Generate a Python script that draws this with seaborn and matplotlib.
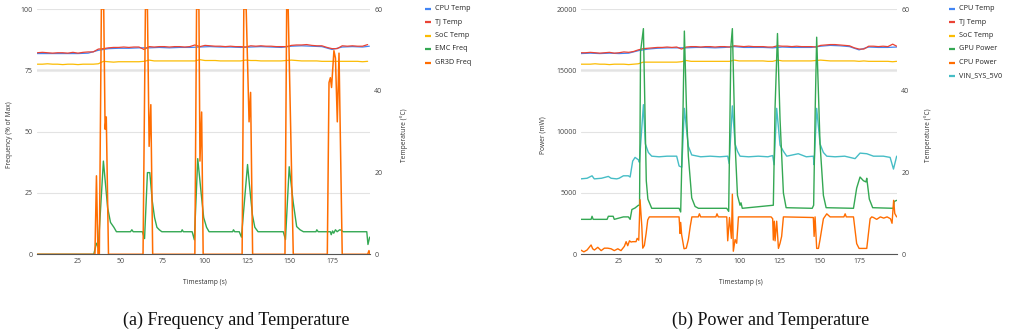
import numpy as np
import pandas as pd
import matplotlib
matplotlib.use("Agg")
import matplotlib.pyplot as plt
from matplotlib.lines import Line2D
import seaborn as sns

# ---------------- DATA ----------------
# (a) Frequency (% of max) and temperature (°C)
GR3D_T = [1, 35, 35.9, 36.8, 37.6, 38.8, 40.2, 41.0, 41.7, 43.0, 63.4, 64.8, 66.0, 67.0, 68.0, 69.1,
          94.0, 95.0, 96.4, 97.0, 98.0, 98.9, 121.9, 122.9, 124.3, 126.0, 126.9, 128.1,
          147.2, 148.2, 149.1, 150.6, 152.1, 172.2, 173.2, 174.0, 174.7, 176.1, 177.0, 178.1,
          179.1, 181.0, 196.0, 196.8, 197.3]
GR3D_V = [0, 0, 32, 0, 0, 100, 100, 51, 56, 0, 0, 100, 100, 44, 61, 0,
          0, 100, 100, 38, 58, 0, 0, 100, 100, 54, 66, 0,
          0, 100, 100, 50, 0, 0, 70, 72, 68, 83, 80, 54,
          82, 0, 0, 1.5, 0]

EMC_T = [1, 34.3, 35.9, 37.0, 40.0, 42.5, 44.2, 46.2, 47.7, 56.0, 56.8, 57.6, 63.0, 64.3, 66.0,
         67.4, 68.8, 70.2, 71.6, 73.0, 74.5, 86.0, 86.5, 87.2, 92.4, 93.7, 95.7, 97.7, 99.2,
         100.9, 102.4, 116.3, 116.8, 117.5, 120.2, 121.5, 125.1, 126.4, 128.0, 129.4, 131.3,
         146.2, 147.5, 149.7, 152.1, 154.1, 156.1, 158.1, 165.5, 166.0, 166.8, 174.0, 174.5,
         175.3, 176.0, 177.0, 178.0, 179.5, 180.5, 181.5, 195.5, 196.2, 197.2]
EMC_V = [0, 0, 4.5, 3, 38, 19, 13, 11, 9.2, 9.2, 10, 9.2, 9.2, 6.4, 33.3,
         33.3, 22, 15, 11, 10, 9.2, 9.2, 10, 9.2, 9.2, 5.9, 39, 25, 15,
         11, 9.2, 9.2, 10, 9.2, 9.2, 7, 36.6, 27, 16, 11, 9.2,
         9.2, 6, 35.7, 21, 11.3, 10, 9.2, 9.2, 10, 9.2, 9.2, 8,
         9.5, 8.6, 10, 9.2, 10, 9.8, 9.2, 9.2, 4, 7]

TEMP_T_A = [1, 4, 7, 10, 13, 16, 19, 22, 25, 28, 31, 34, 37, 40, 43, 46, 49, 52, 55, 58, 61, 64,
            67, 70, 73, 76, 79, 82, 85, 88, 91, 94, 97, 100, 103, 106, 109, 112, 115, 118, 121,
            124, 127, 130, 133, 136, 139, 142, 145, 148, 151, 154, 157, 160, 163, 166, 169, 172,
            175, 178, 181, 184, 187, 190, 193, 196]
TJ_A = [49.3, 49.4, 49.3, 49.2, 49.3, 49.3, 49.2, 49.4, 49.2, 49.4, 49.5, 49.5, 50.2, 50.3,
        50.5, 50.6, 50.6, 50.7, 50.6, 50.7, 50.7, 50.1, 50.8, 50.7, 50.8, 50.8, 50.7, 50.8,
        50.8, 50.7, 50.8, 51.2, 50.8, 51.1, 51.0, 50.9, 50.9, 50.8, 50.9, 50.8, 50.8, 50.7,
        51.0, 50.9, 51.0, 50.9, 50.9, 50.8, 50.8, 50.8, 51.1, 51.2, 51.2, 51.3, 51.1, 51.0,
        51.0, 50.6, 50.3, 50.3, 51.0, 50.9, 51.0, 50.9, 50.9, 51.3]
SOC_A = [46.5, 46.5, 46.6, 46.5, 46.5, 46.4, 46.5, 46.5, 46.4, 46.5, 46.5, 46.5, 46.6, 47.2,
         47.1, 47.0, 47.1, 47.1, 47.1, 47.1, 47.1, 47.2, 47.5, 47.3, 47.3, 47.3, 47.3, 47.3,
         47.3, 47.3, 47.3, 47.3, 47.6, 47.4, 47.4, 47.4, 47.3, 47.3, 47.3, 47.3, 47.3, 47.5,
         47.4, 47.4, 47.3, 47.3, 47.3, 47.3, 47.3, 47.4, 47.5, 47.4, 47.3, 47.3, 47.3, 47.3,
         47.2, 47.2, 47.2, 47.2, 47.2, 47.2, 47.2, 47.2, 47.1, 47.2]
CPU_TEMP_T_A = [1, 7, 13, 19, 25, 31, 37, 43, 49, 55, 61, 67, 73, 79, 85, 91, 97, 103, 109, 115,
                121, 127, 133, 139, 145, 151, 157, 163, 169, 175, 181, 187, 193, 197]
CPU_TEMP_A = [49.1, 49.1, 49.1, 49.1, 49.1, 49.2, 49.9, 50.3, 50.4, 50.4, 50.5, 50.5, 50.6, 50.5,
              50.6, 50.6, 50.7, 50.8, 50.7, 50.7, 50.6, 50.7, 50.8, 50.7, 50.6, 50.9, 51.0, 50.9,
              50.8, 50.1, 50.7, 50.8, 50.7, 50.9]

# (b) Power (mW) and temperature (°C)
VIN_T = [1, 5, 8.1, 9.5, 14, 18.3, 20, 23.5, 25, 27.7, 30.8, 31.9, 33.5, 35.0, 37.1, 37.7, 40.2,
         41.4, 43.3, 45.4, 50, 55, 61.0, 62.5, 64.2, 65.8, 67.3, 68.3, 70.4, 76, 82, 88, 92.9,
         93.8, 95.8, 97.5, 99.0, 100.6, 106, 112, 118, 121.0, 121.9, 123.5, 125.6, 127.7, 129.8,
         137, 142, 146.4, 146.9, 148.5, 150.6, 152.7, 154.8, 160, 166, 172.5, 175.6, 179.8, 184,
         190.2, 194.4, 196.5, 198.5]
VIN_V = [6150, 6200, 6400, 6150, 6200, 6350, 6200, 6150, 6200, 6400, 6400, 6300, 7600, 7900,
         7700, 7500, 12200, 9000, 8300, 8000, 7950, 8000, 8000, 7200, 7100, 11900, 10000, 8800,
         8100, 7950, 8000, 7950, 8000, 7400, 12100, 9000, 8400, 8000, 7950, 8000, 7950, 8050,
         7300, 11900, 8900, 8400, 8000, 8200, 7950, 8000, 7300, 11900, 9000, 8300, 8000, 7950,
         8000, 7800, 8250, 8200, 8000, 8000, 7900, 6950, 8000]

GPU_T = [1, 7.5, 8.1, 8.8, 17.5, 18.3, 21.3, 22, 27.7, 30.8, 31.9, 33.0, 35.0, 37.1, 37.8, 38.4,
         40.2, 42.0, 43.0, 45.4, 62.5, 63.5, 65.0, 65.8, 67.3, 68.3, 70.4, 72.5, 74.6, 92.3, 93.5,
         94.9, 95.8, 97.5, 99.0, 100.6, 101.2, 102.0, 121.4, 122.5, 124.0, 125.6, 127.7, 129.4,
         145.7, 146.6, 147.6, 148.5, 150.6, 152.7, 154.4, 171.5, 173.5, 175.6, 177.7, 179.3,
         179.8, 181.4, 183.5, 196.5, 196.9, 198.5]
GPU_V = [2850, 2850, 3100, 2850, 2850, 3100, 3100, 2850, 3050, 3050, 2850, 3650, 3780, 4000,
         4000, 16500, 18400, 6000, 4500, 3750, 3750, 3450, 12000, 18200, 11000, 8000, 4600, 3900,
         3750, 3750, 3500, 17000, 18400, 9000, 4800, 4000, 4200, 3750, 4000, 12000, 18000, 11000,
         5000, 3800, 3750, 4000, 12000, 17700, 9000, 4800, 3800, 3750, 5400, 6300, 6000, 5900,
         6200, 4500, 3800, 3750, 4300, 4400]

CPUP_T = [1, 3, 5, 7.5, 8.5, 9.6, 11.7, 13.8, 15.8, 17.9, 20, 22, 24.2, 26.2, 28.3, 29.4, 30.4,
          31.5, 32.5, 33.5, 35.6, 36.3, 37.3, 38.1, 39.2, 39.8, 40.8, 41.9, 42.9, 43.9, 62.5,
          63.1, 63.5, 64.1, 65.6, 67.0, 68.3, 69.5, 70.5, 74.5, 75.2, 76, 85.5, 86.2, 87, 92.3,
          92.9, 94.0, 95.2, 95.8, 96.4, 97.5, 98.5, 99.6, 120.0, 121.0, 121.4, 122.0, 122.5,
          123.5, 124.6, 125.6, 126.6, 127.7, 146.4, 146.9, 147.5, 148.5, 149.6, 150.6, 152.7,
          154.8, 156.9, 165.5, 166.3, 167, 171.5, 173.5, 175.0, 179.8, 181.9, 182.9, 184, 186,
          188.3, 190.4, 192.5, 194.6, 195.6, 196.6, 197.3, 198.5]
CPUP_V = [350, 200, 350, 760, 450, 350, 570, 300, 500, 500, 450, 300, 450, 300, 650, 1030, 700,
          1100, 1000, 1030, 1030, 1300, 1150, 4450, 2300, 500, 720, 1700, 2800, 3050, 3050,
          1700, 2600, 1600, 450, 500, 1200, 2300, 3050, 3050, 3300, 3050, 3050, 3300, 3050, 3050,
          1100, 3000, 1300, 4900, 250, 1200, 900, 3050, 3050, 2900, 1160, 2700, 1100,
          2700, 480, 900, 1460, 3050, 3000, 1460, 3050, 480, 480, 1200, 2900,
          3300, 3050, 3050, 3300, 3050, 3050, 870, 480, 480, 2900, 3050, 3000, 2850,
          3050, 2950, 3050, 2900, 2530, 4400, 3330, 3050]

TEMP_T_B = [1, 4, 7, 10, 13, 16, 19, 22, 25, 28, 31, 34, 37, 40, 43, 46, 49, 52, 55, 58, 61, 64,
            67, 70, 73, 76, 79, 82, 85, 88, 91, 94, 97, 100, 103, 106, 109, 112, 115, 118, 121,
            124, 127, 130, 133, 136, 139, 142, 145, 148, 151, 154, 157, 160, 163, 166, 169, 172,
            175, 178, 181, 184, 187, 190, 193, 196, 198.5]
TJ_B = [49.3, 49.3, 49.4, 49.3, 49.2, 49.3, 49.4, 49.2, 49.3, 49.5, 49.4, 49.6, 50.0, 50.3,
        50.4, 50.5, 50.6, 50.6, 50.7, 50.6, 50.7, 50.2, 50.7, 50.8, 50.8, 50.7, 50.8, 50.8,
        50.7, 50.8, 50.8, 50.7, 51.0, 50.9, 50.8, 50.9, 50.8, 50.8, 50.8, 50.7, 50.7, 51.0,
        50.9, 50.9, 50.8, 50.9, 50.8, 50.8, 50.8, 50.7, 51.1, 51.2, 51.3, 51.3, 51.2, 51.1,
        51.0, 50.5, 50.2, 50.2, 50.9, 50.9, 50.8, 50.9, 50.8, 51.4, 50.9]
SOC_B = [46.5, 46.5, 46.5, 46.6, 46.5, 46.5, 46.4, 46.5, 46.5, 46.5, 46.4, 46.5, 46.6, 47.0,
         47.0, 47.0, 47.0, 47.0, 47.0, 47.0, 47.0, 47.1, 47.4, 47.2, 47.2, 47.2, 47.2, 47.2,
         47.2, 47.2, 47.2, 47.2, 47.5, 47.3, 47.3, 47.3, 47.3, 47.3, 47.3, 47.2, 47.2, 47.5,
         47.3, 47.3, 47.3, 47.3, 47.3, 47.3, 47.3, 47.4, 47.5, 47.4, 47.3, 47.3, 47.3, 47.3,
         47.3, 47.3, 47.2, 47.3, 47.2, 47.2, 47.2, 47.2, 47.2, 47.1, 47.2]
CPU_TEMP_T_B = [1, 7, 13, 19, 25, 31, 37, 43, 49, 55, 61, 67, 73, 79, 85, 91, 97, 103, 109, 115,
                121, 127, 133, 139, 145, 151, 157, 163, 169, 175, 181, 187, 193, 198.5]
CPU_TEMP_B = [49.1, 49.2, 49.1, 49.2, 49.1, 49.2, 49.8, 50.2, 50.4, 50.5, 50.5, 50.5, 50.6, 50.6,
              50.5, 50.6, 50.8, 50.6, 50.6, 50.6, 50.5, 50.7, 50.6, 50.6, 50.6, 50.9, 51.1, 51.0,
              50.8, 50.0, 50.7, 50.6, 50.6, 50.7]

X_TICKS = [25, 50, 75, 100, 125, 150, 175]
FREQ_TICKS = [0, 25, 50, 75, 100]
POWER_TICKS = [0, 5000, 10000, 15000, 20000]
TEMP_TICKS = [0, 20, 40, 60]
LEGEND_A = ["CPU Temp", "TJ Temp", "SoC Temp", "EMC Freq", "GR3D Freq"]
LEGEND_B = ["CPU Temp", "TJ Temp", "SoC Temp", "GPU Power", "CPU Power", "VIN_SYS_5V0"]
CAPTION_A = "(a) Frequency and Temperature"
CAPTION_B = "(b) Power and Temperature"

# ---------------- STYLE ----------------
sns.set_theme(style="white")
plt.rcParams["font.family"] = ["Open Sans", "DejaVu Sans"]

BLUE, RED, YELLOW, GREEN, ORANGE, CYAN = "#4285F4", "#EA4335", "#FBBC04", "#34A853", "#FF6D01", "#46BDC6"
GRID = "#e3e3e3"
TICKC = "#444444"
W, H = 1009, 335
TICK_FS = 5.0
LAB_FS = 4.8
LEG_FS = 5.2

fig = plt.figure(figsize=(W / 100, H / 100), dpi=100)


def px_axes(x0, x1, ytop, ybot):
    return fig.add_axes([x0 / W, 1 - ybot / H, (x1 - x0) / W, (ybot - ytop) / H])


def line(ax, t, v, color, lw=1.0, z=2):
    sns.lineplot(x=t, y=v, ax=ax, color=color, lw=lw, estimator=None, sort=False,
                 legend=False, zorder=z)


def style_pair(ax, ax2, xlim, ylim, yticks, ylabels, ylab):
    ax.set_xlim(*xlim)
    ax.set_ylim(*ylim)
    ax2.set_ylim(0, 60)
    ax.set_xticks(X_TICKS)
    ax.set_xticklabels([str(v) for v in X_TICKS])
    ax.set_yticks(yticks)
    ax.set_yticklabels(ylabels)
    ax2.set_yticks(TEMP_TICKS)
    ax2.set_yticklabels([str(v) for v in TEMP_TICKS])
    for a in (ax, ax2):
        for s in a.spines.values():
            s.set_visible(False)
        a.tick_params(length=0, labelsize=TICK_FS, colors=TICKC)
    ax.tick_params(axis="y", pad=3)
    ax.tick_params(axis="x", pad=3)
    ax2.tick_params(axis="y", pad=3)
    ax.spines["bottom"].set_visible(True)
    ax.spines["bottom"].set_color("#555555")
    ax.spines["bottom"].set_linewidth(0.8)
    ax2.xaxis.grid(True, color=GRID, lw=0.8)
    ax2.yaxis.grid(False)
    ax.yaxis.grid(True, color=GRID, lw=0.8)
    ax.xaxis.grid(False)
    ax.axhline(yticks[3], color="#ececec", lw=2.2, zorder=0.5)
    ax.set_zorder(ax2.get_zorder() + 1)
    ax.patch.set_visible(False)
    ax.set_xlabel("Timestamp (s)", fontsize=LAB_FS, color="#333333")
    ax.xaxis.set_label_coords(0.505, -0.10)
    ax.set_ylabel(ylab, fontsize=LAB_FS, color="#333333")
    ax2.set_ylabel("Temperature (°C)", fontsize=LAB_FS, color="#333333")


def legend(x_h, x_t, labels, colors):
    for i, (lab, c) in enumerate(zip(labels, colors)):
        y = 1 - (8.5 + 13.5 * i) / H
        fig.add_artist(Line2D([x_h / W, (x_h + 6) / W], [y, y], transform=fig.transFigure,
                              color=c, lw=1.6, solid_capstyle="butt"))
        fig.text(x_t / W, y, lab, fontsize=LEG_FS, va="center", ha="left", color="#222222")


# ---------------- (a) ----------------
axA = px_axes(37, 370, 9, 254.3)
axA2 = axA.twinx()
line(axA2, CPU_TEMP_T_A, CPU_TEMP_A, BLUE, 0.9)
line(axA2, TEMP_T_A, TJ_A, RED, 0.9)
line(axA2, TEMP_T_A, SOC_A, YELLOW, 0.9)
line(axA, EMC_T, EMC_V, GREEN, 1.0)
line(axA, GR3D_T, GR3D_V, ORANGE, 1.1, z=3)
style_pair(axA, axA2, (0.8, 197.4), (0, 100), FREQ_TICKS, [str(v) for v in FREQ_TICKS],
           "Frequency (% of Max)")
axA.yaxis.set_label_coords(-0.071, 0.486)
axA2.yaxis.set_label_coords(1.09, 0.486)
legend(425, 435, LEGEND_A, [BLUE, RED, YELLOW, GREEN, ORANGE])

# ---------------- (b) ----------------
axB = px_axes(581, 897, 9, 254.3)
axB2 = axB.twinx()
line(axB2, CPU_TEMP_T_B, CPU_TEMP_B, BLUE, 0.9)
line(axB2, TEMP_T_B, TJ_B, RED, 0.9)
line(axB2, TEMP_T_B, SOC_B, YELLOW, 0.9)
line(axB, VIN_T, VIN_V, CYAN, 1.0)
line(axB, GPU_T, GPU_V, GREEN, 1.0, z=3)
line(axB, CPUP_T, CPUP_V, ORANGE, 1.0, z=3)
style_pair(axB, axB2, (1.2, 198.7), (0, 20000), POWER_TICKS, [str(v) for v in POWER_TICKS],
           "Power (mW)")
axB.yaxis.set_label_coords(-0.11, 0.486)
axB2.yaxis.set_label_coords(1.085, 0.486)
legend(949, 959, LEGEND_B, [BLUE, RED, YELLOW, GREEN, ORANGE, CYAN])

# ---------------- captions ----------------
fig.text(236 / W, 1 - 320 / H, CAPTION_A, fontsize=13, ha="center", va="center",
         family=["Liberation Serif", "DejaVu Serif"], color="#111111")
fig.text(771 / W, 1 - 320 / H, CAPTION_B, fontsize=13, ha="center", va="center",
         family=["Liberation Serif", "DejaVu Serif"], color="#111111")

fig.savefig("out.png", dpi=100)
